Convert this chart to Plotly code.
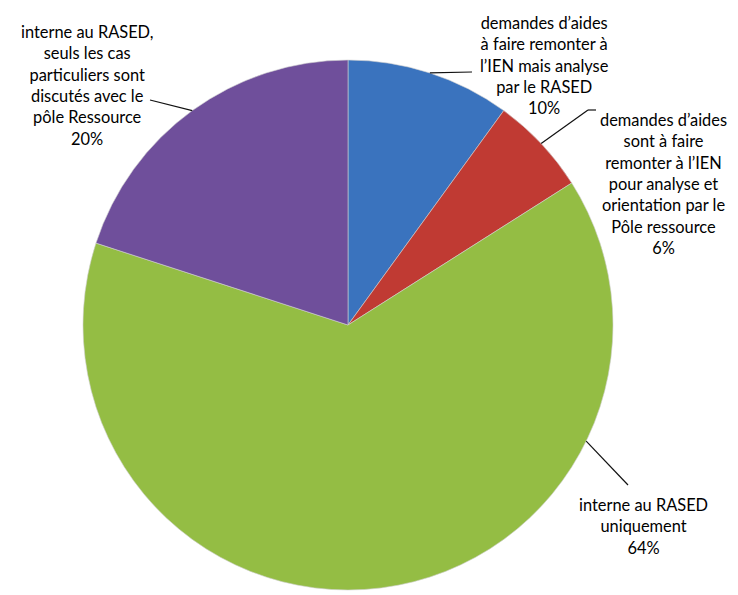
import math
import plotly.graph_objects as go

# the page body adds an 8px offset, so the figure is drawn 8px smaller
OFF = 8
W, H = 738 - OFF, 595 - OFF

labels = [
    "demandes d’aides<br>à faire remonter à<br>l’IEN mais analyse<br>par le RASED",
    "demandes d’aides<br>sont à faire<br>remonter à l’IEN<br>pour analyse et<br>orientation par le<br>Pôle ressource",
    "interne au RASED<br>uniquement",
    "interne au RASED,<br>seuls les cas<br>particuliers sont<br>discutés avec le<br>pôle Ressource",
]
values = [10, 6, 64, 20]
colors = ["#3A73BE", "#C03A33", "#94BD44", "#6F4F9B"]

# layout constants (pixels, in reference window coordinates)
CX, CY, R = 348, 325, 265
label_pos = [(544, 65), (663, 183), (643, 526), (87, 85)]
leader_angle = [None, None, 116, None]  # None -> slice midpoint
leader_end = [[(472, 72)], [(588, 110), (596, 110)], [(628, 485)], [(150, 100)]]

def px(x):
    return (x - OFF) / W

def py(y):
    return 1 - (y - OFF) / H

fig = go.Figure(go.Pie(
    labels=labels,
    values=values,
    sort=False,
    direction="clockwise",
    rotation=0,
    textinfo="none",
    hoverinfo="label+percent",
    marker=dict(colors=colors, line=dict(color="#d0d0d0", width=0.6)),
    domain=dict(x=[px(CX - R), px(CX + R)], y=[py(CY + R), py(CY - R)]),
    showlegend=False,
))

total = sum(values)
annotations = []
shapes = []
cum = 0
for i, v in enumerate(values):
    mid = (cum + v / 2) / total * 360
    cum += v
    ang = leader_angle[i] if leader_angle[i] is not None else mid
    sx = CX + R * math.sin(math.radians(ang))
    sy = CY - R * math.cos(math.radians(ang))
    pts = [(sx, sy)] + leader_end[i]
    for (x0, y0), (x1, y1) in zip(pts[:-1], pts[1:]):
        shapes.append(dict(type="line", xref="paper", yref="paper",
                           x0=px(x0), y0=py(y0), x1=px(x1), y1=py(y1),
                           line=dict(color="#111111", width=1.2)))
    pct = round(v / total * 100)
    lx, ly = label_pos[i]
    annotations.append(dict(
        x=px(lx), y=py(ly), xref="paper", yref="paper",
        text=f"{labels[i]}<br>{pct}%", showarrow=False,
        xanchor="center", yanchor="middle", align="center",
        font=dict(family="Lato", size=16.4, color="#000000"),
    ))

fig.update_layout(
    width=W, height=H,
    margin=dict(l=0, r=0, t=0, b=0),
    paper_bgcolor="white", plot_bgcolor="white",
    annotations=annotations, shapes=shapes,
)

fig.write_html("out.html")
